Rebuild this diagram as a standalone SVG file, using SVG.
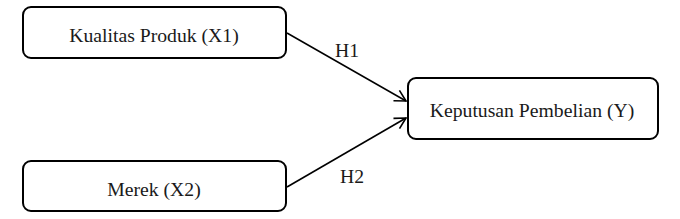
<svg xmlns="http://www.w3.org/2000/svg" width="680" height="219" viewBox="0 0 680 219">
<style>
.box{fill:#fff;stroke:#000;stroke-width:2}
.t{font-family:"Liberation Serif","Times New Roman",serif;font-size:19.7px;fill:#1a1a1a;text-anchor:middle}
.c{stroke:#000;stroke-width:1.6;fill:none;marker-end:url(#ah)}
</style>
<defs>
<marker id="ah" markerWidth="14" markerHeight="14" refX="12" refY="7" orient="auto" markerUnits="userSpaceOnUse">
<path d="M1,1 L12,7 L1,13" fill="none" stroke="#000" stroke-width="1.6"/>
</marker>
</defs>
<rect width="680" height="219" fill="#fff"/>
<g id="x1"><rect class="box" x="23" y="7" width="263" height="51" rx="8"/><text class="t" x="154" y="42">Kualitas Produk (X1)</text></g>
<g id="x2"><rect class="box" x="23" y="161" width="263" height="50" rx="8"/><text class="t" x="154" y="196">Merek (X2)</text></g>
<g id="y"><rect class="box" x="408" y="78" width="250" height="61" rx="8"/><text class="t" x="532" y="117">Keputusan Pembelian (Y)</text></g>
<g id="connectors">
<line class="c" x1="287" y1="33" x2="406" y2="101"/>
<line class="c" x1="287" y1="187" x2="406" y2="118"/>
<text class="t" x="347" y="57">H1</text>
<text class="t" x="352" y="183">H2</text>
</g>
</svg>
